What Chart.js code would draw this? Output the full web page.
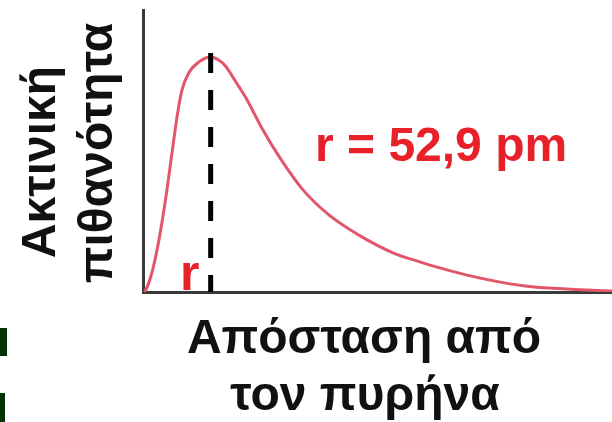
<!DOCTYPE html>
<html>
<head>
<meta charset="utf-8">
<script src="https://cdn.jsdelivr.net/npm/chart.js@4.4.1/dist/chart.umd.min.js"></script>
<style>
  html, body { margin: 0; padding: 0; background: #fff; }
  #wrap { width: 612px; height: 422px; }
</style>
</head>
<body>
<div id="wrap"><canvas id="radialChart"></canvas></div>
<script>
// distance from the nucleus (pm) and relative radial probability
const distances = [0, 1.3, 6.6, 11.8, 17.1, 22.3, 26.3, 30.2, 35.5, 43.4, 52.9, 59.2, 64.7, 69.5, 75.0, 80.5, 93.2, 106.6, 124.8, 146, 170, 196, 217, 227, 254, 280, 306, 349, 369];
const probability = [0, 0.004, 0.082, 0.211, 0.384, 0.586, 0.741, 0.858, 0.931, 0.978, 1.0, 0.987, 0.961, 0.922, 0.875, 0.828, 0.698, 0.578, 0.44, 0.328, 0.241, 0.168, 0.129, 0.112, 0.073, 0.043, 0.022, 0.009, 0.004];

// most probable radius (dashed marker)
const peakRadius = [52.9, 52.9];
const peakLine = [1.017, 0];

const yTitle = ["Ακτινική", "πιθανότητα"];
const xTitle = ["Απόσταση από", "τον πυρήνα"];
const peakLabel = "r = 52,9 pm";
const radiusLabel = "r";

const FONT = "'Liberation Sans', Arial, sans-serif";

// text labels and leftover bits of the slide
const labelsPlugin = {
  id: "labels",
  afterDraw(chart) {
    const ctx = chart.ctx;
    ctx.save();

    ctx.fillStyle = "#003300";
    ctx.fillRect(0, 328, 7, 28);
    ctx.fillRect(0, 393, 5, 29);

    ctx.fillStyle = "#111";
    ctx.font = "bold 48px " + FONT;
    ctx.textAlign = "center";
    ctx.textBaseline = "alphabetic";
    ctx.fillText(xTitle[0], 364, 353);
    ctx.fillText(xTitle[1], 365, 410);

    ctx.save();
    ctx.translate(55, 162);
    ctx.rotate(-Math.PI / 2);
    ctx.fillText(yTitle[0], 0, 0);
    ctx.restore();
    ctx.save();
    ctx.translate(112, 153);
    ctx.rotate(-Math.PI / 2);
    ctx.fillText(yTitle[1], 0, 0);
    ctx.restore();

    ctx.fillStyle = "#e8202a";
    ctx.textAlign = "left";
    ctx.font = "bold 48px " + FONT;
    ctx.fillText(peakLabel, 315, 161);
    ctx.font = "bold 50px " + FONT;
    ctx.fillText(radiusLabel, 180, 290);

    ctx.restore();
  }
};

const ctx = document.getElementById("radialChart");

const radialChart = new Chart(ctx, {
  type: "scatter",
  data: {
    datasets: [
      {
        label: "Ακτινική πιθανότητα",
        data: distances.map((d, i) => ({ x: d, y: probability[i] })),
        showLine: true,
        borderColor: "#e2566b",
        borderWidth: 3,
        pointRadius: 0,
        cubicInterpolationMode: "monotone",
        order: 2
      },
      {
        label: "r",
        data: peakRadius.map((d, i) => ({ x: d, y: peakLine[i] })),
        showLine: true,
        borderColor: "#000",
        borderWidth: 5,
        borderDash: [20, 17],
        pointRadius: 0,
        order: 1
      }
    ]
  },
  options: {
    responsive: true,
    maintainAspectRatio: false,
    animation: false,
    layout: {
      padding: { left: 135.5, top: 10, right: 0, bottom: 122 }
    },
    plugins: {
      legend: { display: false },
      tooltip: { enabled: false }
    },
    scales: {
      x: {
        type: "linear",
        min: 0,
        max: 369,
        ticks: { display: false },
        grid: { display: false },
        border: { display: true, color: "#3a3a3a", width: 3 }
      },
      y: {
        min: 0,
        max: 1.2,
        ticks: { display: false },
        grid: { display: false },
        border: { display: true, color: "#3a3a3a", width: 3 }
      }
    }
  },
  plugins: [labelsPlugin]
});
</script>
</body>
</html>
